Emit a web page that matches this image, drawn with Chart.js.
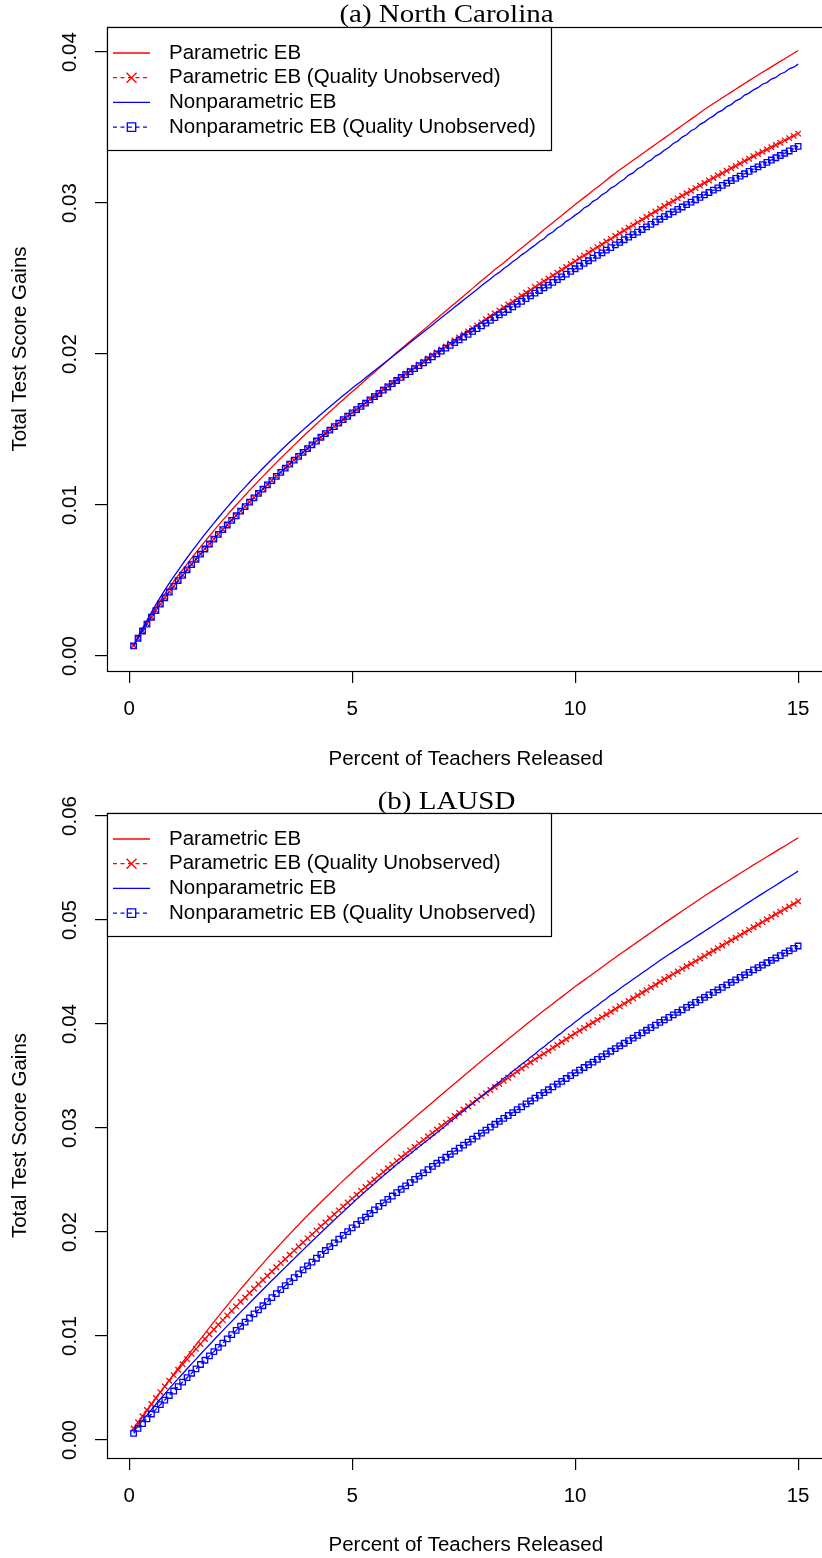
<!DOCTYPE html>
<html><head><meta charset="utf-8">
<script src="https://cdn.jsdelivr.net/npm/chart.js@4.4.1/dist/chart.umd.min.js"></script>
<style>
html,body{margin:0;padding:0;background:#fff;overflow:hidden}
#wrap{position:relative;width:822px;height:1558px;overflow:hidden;background:#fff}
.panel{position:absolute;left:0}
</style></head><body>
<div id="wrap">
<canvas id="ncChart" class="panel" width="830" height="786" style="top:0"></canvas>
<canvas id="laChart" class="panel" width="830" height="772" style="top:786px"></canvas>
</div>
<script>
// percent of teachers released (x), one point every 0.1
const pctReleased=[
0.1,0.2,0.3,0.4,0.5,0.6,0.7,0.8,0.9,1,
1.1,1.2,1.3,1.4,1.5,1.6,1.7,1.8,1.9,2,
2.1,2.2,2.3,2.4,2.5,2.6,2.7,2.8,2.9,3,
3.1,3.2,3.3,3.4,3.5,3.6,3.7,3.8,3.9,4,
4.1,4.2,4.3,4.4,4.5,4.6,4.7,4.8,4.9,5,
5.1,5.2,5.3,5.4,5.5,5.6,5.7,5.8,5.9,6,
6.1,6.2,6.3,6.4,6.5,6.6,6.7,6.8,6.9,7,
7.1,7.2,7.3,7.4,7.5,7.6,7.7,7.8,7.9,8,
8.1,8.2,8.3,8.4,8.5,8.6,8.7,8.8,8.9,9,
9.1,9.2,9.3,9.4,9.5,9.6,9.7,9.8,9.9,10,
10.1,10.2,10.3,10.4,10.5,10.6,10.7,10.8,10.9,11,
11.1,11.2,11.3,11.4,11.5,11.6,11.7,11.8,11.9,12,
12.1,12.2,12.3,12.4,12.5,12.6,12.7,12.8,12.9,13,
13.1,13.2,13.3,13.4,13.5,13.6,13.7,13.8,13.9,14,
14.1,14.2,14.3,14.4,14.5,14.6,14.7,14.8,14.9,15];

// (a) North Carolina
const ncParametric=[
0.0007,0.00123,0.00175,0.00225,0.00274,0.00321,0.00367,0.00411,0.00453,0.00494,
0.00534,0.00573,0.00611,0.00649,0.00686,0.00723,0.0076,0.00795,0.00831,0.00865,
0.009,0.00933,0.00967,0.01,0.01033,0.01065,0.01097,0.01128,0.0116,0.0119,
0.01221,0.01251,0.01281,0.0131,0.01339,0.01368,0.01397,0.01426,0.01454,0.01482,
0.01509,0.01537,0.01564,0.01591,0.01618,0.01645,0.01672,0.01698,0.01725,0.01751,
0.01776,0.01802,0.01828,0.01854,0.0188,0.01906,0.01932,0.01958,0.01984,0.0201,
0.02035,0.0206,0.02085,0.0211,0.02135,0.0216,0.02185,0.0221,0.02235,0.0226,
0.02285,0.0231,0.02335,0.0236,0.02385,0.0241,0.02435,0.0246,0.02485,0.0251,
0.02534,0.0256,0.02582,0.02605,0.0263,0.02654,0.02679,0.02702,0.02726,0.0275,
0.02774,0.02798,0.02823,0.02846,0.0287,0.02894,0.02917,0.02942,0.02966,0.0299,
0.03013,0.03036,0.03059,0.03083,0.03105,0.03128,0.03151,0.03175,0.03197,0.0322,
0.03241,0.03262,0.03283,0.03304,0.03325,0.03346,0.03367,0.03388,0.03409,0.0343,
0.03451,0.03472,0.03493,0.03514,0.03535,0.03556,0.03577,0.03598,0.03619,0.0364,
0.03659,0.03678,0.03697,0.03716,0.03735,0.03754,0.03773,0.03792,0.03811,0.0383,
0.03848,0.03866,0.03884,0.03902,0.0392,0.03938,0.03956,0.03974,0.03992,0.0401];
const ncParametricQU=[
0.0007,0.00119,0.00166,0.00213,0.00258,0.00302,0.00345,0.00386,0.00425,0.00463,
0.005,0.00536,0.00572,0.00607,0.00642,0.00676,0.0071,0.00743,0.00775,0.00807,
0.00838,0.00869,0.009,0.0093,0.00961,0.0099,0.0102,0.01049,0.01078,0.01107,
0.01135,0.01163,0.01191,0.01218,0.01245,0.01272,0.01298,0.01324,0.0135,0.01375,
0.014,0.01425,0.0145,0.01474,0.01497,0.01521,0.01544,0.01567,0.01589,0.01611,
0.01633,0.01655,0.01677,0.01699,0.01721,0.01743,0.01765,0.01787,0.01808,0.0183,
0.0185,0.0187,0.0189,0.0191,0.0193,0.0195,0.0197,0.0199,0.0201,0.0203,
0.0205,0.0207,0.0209,0.0211,0.0213,0.0215,0.0217,0.0219,0.0221,0.0223,
0.0225,0.02269,0.02289,0.02308,0.02328,0.02347,0.02367,0.02386,0.02406,0.02425,
0.02444,0.02463,0.02482,0.02501,0.0252,0.02539,0.02558,0.02577,0.02596,0.02615,
0.02634,0.02652,0.02671,0.02689,0.02708,0.02726,0.02745,0.02763,0.02782,0.028,
0.02818,0.02836,0.02854,0.02872,0.0289,0.02908,0.02926,0.02944,0.02962,0.0298,
0.02997,0.03014,0.03031,0.03048,0.03065,0.03082,0.03099,0.03116,0.03133,0.0315,
0.03166,0.03182,0.03198,0.03214,0.0323,0.03246,0.03262,0.03278,0.03294,0.0331,
0.03325,0.0334,0.03355,0.0337,0.03385,0.034,0.03415,0.0343,0.03445,0.0346];
const ncNonparametric=[
0.0007,0.00127,0.00183,0.00237,0.0029,0.00341,0.0039,0.00437,0.00483,0.00526,
0.00568,0.0061,0.00651,0.00691,0.0073,0.00769,0.00807,0.00844,0.0088,0.00916,
0.00951,0.00986,0.0102,0.01054,0.01087,0.01119,0.01151,0.01183,0.01213,0.01244,
0.01274,0.01303,0.01332,0.01361,0.01389,0.01417,0.01444,0.01471,0.01498,0.01524,
0.0155,0.01575,0.01601,0.01626,0.01651,0.01676,0.017,0.01725,0.01749,0.01773,
0.01796,0.01819,0.01843,0.01866,0.01889,0.01912,0.01935,0.01959,0.01982,0.02005,
0.02029,0.02052,0.02076,0.02099,0.02123,0.02146,0.0217,0.02193,0.02217,0.0224,
0.02264,0.02287,0.02311,0.02334,0.02358,0.02381,0.02405,0.02428,0.02452,0.02475,
0.02497,0.02522,0.02541,0.02567,0.02586,0.02612,0.02631,0.02657,0.02676,0.027,
0.02721,0.02746,0.02764,0.02791,0.02808,0.02835,0.02851,0.02879,0.02896,0.0292,
0.02939,0.02967,0.02983,0.03011,0.03027,0.03055,0.03071,0.03099,0.03115,0.0314,
0.03158,0.03185,0.032,0.03227,0.03242,0.03269,0.03284,0.03311,0.03326,0.0335,
0.03368,0.03395,0.0341,0.03437,0.03452,0.03479,0.03494,0.03521,0.03536,0.0356,
0.03576,0.03601,0.03614,0.03639,0.03652,0.03677,0.0369,0.03715,0.03728,0.0375,
0.03764,0.03787,0.03798,0.03821,0.03832,0.03855,0.03866,0.03889,0.039,0.0392];
const ncNonparametricQU=[
0.00068,0.00118,0.00166,0.00212,0.00257,0.00301,0.00344,0.00385,0.00424,0.00462,
0.00499,0.00535,0.00571,0.00606,0.00641,0.00675,0.00709,0.00742,0.00774,0.00806,
0.00837,0.00868,0.00899,0.00929,0.0096,0.00989,0.01019,0.01048,0.01077,0.01106,
0.01134,0.01162,0.0119,0.01217,0.01244,0.01271,0.01297,0.01323,0.01349,0.01374,
0.01399,0.01424,0.01449,0.01473,0.01496,0.0152,0.01543,0.01566,0.01588,0.0161,
0.01632,0.01653,0.01675,0.01696,0.01718,0.01739,0.01761,0.01782,0.01804,0.01825,
0.01845,0.01864,0.01884,0.01903,0.01923,0.01942,0.01962,0.01981,0.02001,0.0202,
0.02039,0.02057,0.02076,0.02094,0.02113,0.02131,0.0215,0.02168,0.02187,0.02205,
0.02223,0.02241,0.02259,0.02277,0.02295,0.02313,0.02331,0.02349,0.02367,0.02385,
0.02403,0.02421,0.02439,0.02457,0.02475,0.02493,0.02511,0.02529,0.02547,0.02565,
0.02583,0.026,0.02618,0.02635,0.02653,0.0267,0.02688,0.02705,0.02723,0.0274,
0.02757,0.02774,0.02791,0.02808,0.02825,0.02842,0.02859,0.02876,0.02893,0.0291,
0.02926,0.02942,0.02958,0.02974,0.0299,0.03006,0.03022,0.03038,0.03054,0.0307,
0.03086,0.03101,0.03117,0.03132,0.03148,0.03163,0.03179,0.03194,0.0321,0.03225,
0.0324,0.03255,0.0327,0.03285,0.033,0.03315,0.0333,0.03345,0.0336,0.03375];

// (b) LAUSD
const laParametric=[
0.001,0.00161,0.00221,0.00281,0.00341,0.004,0.00459,0.00518,0.00576,0.00633,
0.00691,0.00748,0.00804,0.0086,0.00916,0.00971,0.01026,0.01081,0.01135,0.01188,
0.01242,0.01294,0.01347,0.01398,0.0145,0.015,0.01551,0.016,0.0165,0.01698,
0.01747,0.01794,0.01842,0.01888,0.01935,0.0198,0.02026,0.0207,0.02115,0.02158,
0.02202,0.02245,0.02287,0.02329,0.02371,0.02412,0.02453,0.02494,0.02534,0.02573,
0.02613,0.02652,0.0269,0.02729,0.02767,0.02805,0.02842,0.0288,0.02917,0.02953,
0.0299,0.03026,0.03063,0.031,0.03136,0.03173,0.0321,0.03246,0.03283,0.0332,
0.03356,0.03392,0.03428,0.03464,0.035,0.03536,0.03572,0.03608,0.03644,0.0368,
0.03715,0.0375,0.03785,0.0382,0.03855,0.0389,0.03925,0.0396,0.03995,0.0403,
0.04063,0.04096,0.04129,0.04162,0.04195,0.04228,0.04261,0.04294,0.04327,0.0436,
0.04391,0.04422,0.04453,0.04484,0.04515,0.04546,0.04577,0.04608,0.04639,0.0467,
0.047,0.0473,0.0476,0.0479,0.0482,0.0485,0.0488,0.0491,0.0494,0.0497,
0.04999,0.05028,0.05057,0.05086,0.05115,0.05144,0.05173,0.05202,0.05231,0.0526,
0.05287,0.05314,0.05341,0.05368,0.05395,0.05422,0.05449,0.05476,0.05503,0.0553,
0.05556,0.05582,0.05608,0.05634,0.0566,0.05686,0.05712,0.05738,0.05764,0.0579];
const laParametricQU=[
0.0011,0.0017,0.00229,0.00288,0.00346,0.00404,0.0046,0.00516,0.0057,0.00624,
0.00676,0.00728,0.00778,0.00828,0.00876,0.00924,0.00971,0.01017,0.01063,0.01109,
0.01153,0.01198,0.01242,0.01285,0.01329,0.01371,0.01414,0.01456,0.01497,0.01539,
0.01579,0.0162,0.01661,0.01701,0.01741,0.01781,0.01821,0.0186,0.01899,0.01939,
0.01977,0.02016,0.02055,0.02093,0.02132,0.0217,0.02208,0.02246,0.02283,0.02321,
0.02358,0.02396,0.02432,0.02469,0.02505,0.02542,0.02577,0.02613,0.02648,0.02684,
0.02718,0.02751,0.02785,0.02818,0.02852,0.02886,0.02919,0.02953,0.02986,0.0302,
0.03052,0.03083,0.03115,0.03146,0.03178,0.03209,0.03241,0.03272,0.03304,0.03335,
0.03365,0.03394,0.03424,0.03454,0.03484,0.03513,0.03543,0.03573,0.03602,0.03632,
0.0366,0.03688,0.03715,0.03743,0.03771,0.03799,0.03827,0.03854,0.03882,0.0391,
0.03936,0.03962,0.03988,0.04014,0.0404,0.04066,0.04092,0.04118,0.04144,0.0417,
0.04196,0.04222,0.04248,0.04274,0.043,0.04326,0.04352,0.04378,0.04404,0.0443,
0.04455,0.0448,0.04505,0.0453,0.04555,0.0458,0.04605,0.0463,0.04655,0.0468,
0.04705,0.0473,0.04755,0.0478,0.04805,0.0483,0.04855,0.0488,0.04905,0.0493,
0.04955,0.0498,0.05005,0.0503,0.05055,0.0508,0.05105,0.0513,0.05155,0.0518];
const laNonparametric=[
0.0008,0.00134,0.00187,0.0024,0.00292,0.00344,0.00394,0.00444,0.00494,0.00542,
0.0059,0.00637,0.00685,0.00732,0.00778,0.00825,0.00871,0.00916,0.00962,0.01007,
0.01052,0.01097,0.01141,0.01185,0.0123,0.01273,0.01317,0.01361,0.01404,0.01447,
0.0149,0.01533,0.01575,0.01618,0.0166,0.01702,0.01744,0.01786,0.01828,0.0187,
0.01911,0.01952,0.01993,0.02034,0.02075,0.02115,0.02155,0.02195,0.02235,0.02275,
0.02314,0.02353,0.02391,0.02429,0.02467,0.02504,0.02541,0.02578,0.02614,0.0265,
0.02683,0.02718,0.02751,0.02786,0.02819,0.02854,0.02887,0.02922,0.02955,0.0299,
0.03023,0.03062,0.03093,0.03132,0.03163,0.03202,0.03233,0.03272,0.03303,0.0334,
0.03372,0.0341,0.0344,0.03478,0.03508,0.03546,0.03576,0.03614,0.03644,0.0368,
0.03712,0.0375,0.0378,0.03818,0.03848,0.03886,0.03916,0.03954,0.03984,0.0402,
0.0405,0.04086,0.04114,0.0415,0.04178,0.04214,0.04242,0.04278,0.04306,0.0434,
0.0437,0.044,0.0443,0.0446,0.0449,0.0452,0.0455,0.0458,0.0461,0.0464,
0.04668,0.04696,0.04724,0.04752,0.0478,0.04808,0.04836,0.04864,0.04892,0.0492,
0.04948,0.04976,0.05004,0.05032,0.0506,0.05088,0.05116,0.05144,0.05172,0.052,
0.05227,0.05254,0.05281,0.05308,0.05335,0.05362,0.05389,0.05416,0.05443,0.0547];
const laNonparametricQU=[
0.00064,0.00111,0.00158,0.00204,0.0025,0.00295,0.0034,0.00384,0.00428,0.00471,
0.00514,0.00557,0.00599,0.00642,0.00684,0.00726,0.00767,0.00809,0.0085,0.00891,
0.00932,0.00973,0.01013,0.01054,0.01094,0.01134,0.01173,0.01213,0.01252,0.01291,
0.0133,0.01369,0.01408,0.01446,0.01484,0.01523,0.01561,0.01598,0.01636,0.01674,
0.01711,0.01748,0.01785,0.01822,0.01859,0.01895,0.01931,0.01967,0.02003,0.02039,
0.02074,0.02109,0.02144,0.02178,0.02213,0.02246,0.0228,0.02313,0.02346,0.02379,
0.02411,0.02443,0.02475,0.02507,0.02538,0.02569,0.026,0.02631,0.02661,0.02691,
0.02719,0.02748,0.02777,0.02806,0.02835,0.02864,0.02893,0.02922,0.02951,0.0298,
0.03008,0.03036,0.03064,0.03092,0.0312,0.03148,0.03176,0.03204,0.03232,0.0326,
0.03287,0.03314,0.03341,0.03368,0.03395,0.03422,0.03449,0.03476,0.03503,0.0353,
0.03556,0.03582,0.03608,0.03634,0.0366,0.03686,0.03712,0.03738,0.03764,0.0379,
0.03815,0.0384,0.03865,0.0389,0.03915,0.0394,0.03965,0.0399,0.04015,0.0404,
0.04064,0.04088,0.04112,0.04136,0.0416,0.04184,0.04208,0.04232,0.04256,0.0428,
0.04304,0.04328,0.04352,0.04376,0.044,0.04424,0.04448,0.04472,0.04496,0.0452,
0.04543,0.04566,0.04589,0.04612,0.04635,0.04658,0.04681,0.04704,0.04727,0.0475];

const xTicks=[0,5,10,15];
const xLimits=[-0.496,15.596];
const ncYTicks=[0,0.01,0.02,0.03,0.04];
const ncYLimits=[-0.00099,0.04166];
const laYTicks=[0,0.01,0.02,0.03,0.04,0.05,0.06];
const laYLimits=[-0.00173,0.06029];
const seriesLabels=['Parametric EB','Parametric EB (Quality Unobserved)','Nonparametric EB','Nonparametric EB (Quality Unobserved)'];

const SANS='"Liberation Sans", Arial, Helvetica, sans-serif';
const SERIF='"Liberation Serif", "Times New Roman", serif';
const RED='#ff0000', BLUE='#0000ff';

const toPoints=ys=>pctReleased.map((x,i)=>({x,y:ys[i]}));

// R style full box round the plot region
const rBox={id:'rBox',afterDraw(chart){
  const {ctx,chartArea:a}=chart;
  ctx.save(); ctx.strokeStyle='#000'; ctx.lineWidth=1.2;
  ctx.strokeRect(Math.round(a.left)+.5,Math.round(a.top)+.5,Math.round(a.right-a.left),Math.round(a.bottom-a.top));
  ctx.restore();
}};

// panel caption, a little wider than Times like the LaTeX font
const rTitle={id:'rTitle',afterDraw(chart,args,o){
  const ctx=chart.ctx; ctx.save();
  ctx.font=o.font; ctx.fillStyle='#000'; ctx.textAlign='center'; ctx.textBaseline='alphabetic';
  ctx.translate(o.x,o.y); ctx.scale(o.stretch,1);
  ctx.fillText(o.text,0,0); ctx.restore();
}};

function drawMark(ctx,style,x,y,o){
  ctx.beginPath();
  if(style==='rect'){ const h=o.squareHalf; ctx.rect(x-h,y-h,2*h,2*h); }
  else { const h=o.crossHalf; ctx.moveTo(x-h,y-h); ctx.lineTo(x+h,y+h); ctx.moveTo(x+h,y-h); ctx.lineTo(x-h,y+h); }
  ctx.stroke();
}

const rLegend={id:'rLegend',afterDraw(chart,args,o){
  const ctx=chart.ctx, a=chart.chartArea, x0=Math.round(a.left), y0=Math.round(a.top);
  ctx.save();
  ctx.fillStyle='#fff'; ctx.fillRect(x0,y0,o.width,o.height);
  ctx.strokeStyle='#000'; ctx.lineWidth=1.2; ctx.strokeRect(x0+.5,y0+.5,o.width,o.height);
  chart.data.datasets.forEach((ds,i)=>{
    const y=y0+o.firstRow+i*o.rowStep;
    ctx.strokeStyle=ds.borderColor; ctx.lineWidth=ds.borderWidth;
    ctx.setLineDash(ds.borderDash||[]);
    ctx.beginPath(); ctx.moveTo(x0+o.lineFrom,y); ctx.lineTo(x0+o.lineTo,y); ctx.stroke();
    ctx.setLineDash([]);
    if(ds.pointRadius>0) drawMark(ctx,ds.pointStyle,x0+(o.lineFrom+o.lineTo)/2,y,o);
    ctx.fillStyle='#000'; ctx.font=o.font; ctx.textAlign='left'; ctx.textBaseline='middle';
    ctx.fillText(ds.label,x0+o.textX,y);
  });
  ctx.restore();
}};

function panelConfig(p){
  const font={family:SANS,size:20.5};
  const grid={drawOnChartArea:false,drawTicks:true,tickLength:12,color:'#000',lineWidth:1.2};
  return {
    type:'line',
    data:{datasets:[
      {label:seriesLabels[0],data:toPoints(p.series[0]),borderColor:RED,borderWidth:1.3,pointRadius:0,fill:false,order:4},
      {label:seriesLabels[1],data:toPoints(p.series[1]),borderColor:RED,borderWidth:1.3,borderDash:[4,3.5],
       pointStyle:'crossRot',pointRadius:3.9,pointBorderColor:RED,pointBorderWidth:1.3,pointBackgroundColor:'rgba(0,0,0,0)',fill:false,order:3},
      {label:seriesLabels[2],data:toPoints(p.series[2]),borderColor:BLUE,borderWidth:1.3,pointRadius:0,fill:false,order:2},
      {label:seriesLabels[3],data:toPoints(p.series[3]),borderColor:BLUE,borderWidth:1.3,borderDash:[4,3.5],
       pointStyle:'rect',pointRadius:3.9,pointBorderColor:BLUE,pointBorderWidth:1.3,pointBackgroundColor:'rgba(0,0,0,0)',fill:false,order:1}
    ]},
    options:{
      responsive:false,animation:false,devicePixelRatio:1,events:[],
      layout:{padding:{top:27,right:4,left:0,bottom:0}},
      scales:{
        x:{type:'linear',min:xLimits[0],max:xLimits[1],
          afterBuildTicks:s=>{s.ticks=xTicks.map(v=>({value:v}));},
          afterFit:s=>{s.height=p.xAxisHeight;},
          grid,border:{display:false},
          ticks:{color:'#000',font,padding:14,maxRotation:0,autoSkip:false},
          title:{display:true,text:'Percent of Teachers Released',color:'#000',font,padding:{top:0,bottom:p.xTitlePad}}},
        y:{type:'linear',min:p.yLimits[0],max:p.yLimits[1],
          afterBuildTicks:s=>{s.ticks=p.yTicks.map(v=>({value:v}));},
          afterFit:s=>{s.width=107;},
          grid,border:{display:false},
          ticks:{color:'#000',font,padding:5,minRotation:90,maxRotation:90,crossAlign:'center',autoSkip:false,
            callback:v=>v.toFixed(2)},
          title:{display:true,text:'Total Test Score Gains',color:'#000',font,padding:{top:7.7,bottom:0}}}
      },
      plugins:{
        legend:{display:false},tooltip:{enabled:false},
        rTitle:{text:p.title,x:446.5,y:p.titleY,font:'25px '+SERIF,stretch:1.16},
        rLegend:{width:444,height:123,firstRow:26,rowStep:24.7,lineFrom:6,lineTo:43,textX:62,
          crossHalf:5,squareHalf:4.2,font:'20.5px '+SANS}
      }
    },
    plugins:[rBox,rTitle,rLegend]
  };
}

new Chart(document.getElementById('ncChart'),panelConfig({
  title:'(a) North Carolina',titleY:22,
  series:[ncParametric,ncParametricQU,ncNonparametric,ncNonparametricQU],
  yTicks:ncYTicks,yLimits:ncYLimits,xAxisHeight:115,xTitlePad:14.7
}));
new Chart(document.getElementById('laChart'),panelConfig({
  title:'(b) LAUSD',titleY:23,
  series:[laParametric,laParametricQU,laNonparametric,laNonparametricQU],
  yTicks:laYTicks,yLimits:laYLimits,xAxisHeight:100,xTitlePad:0.7
}));
</script>
</body></html>
